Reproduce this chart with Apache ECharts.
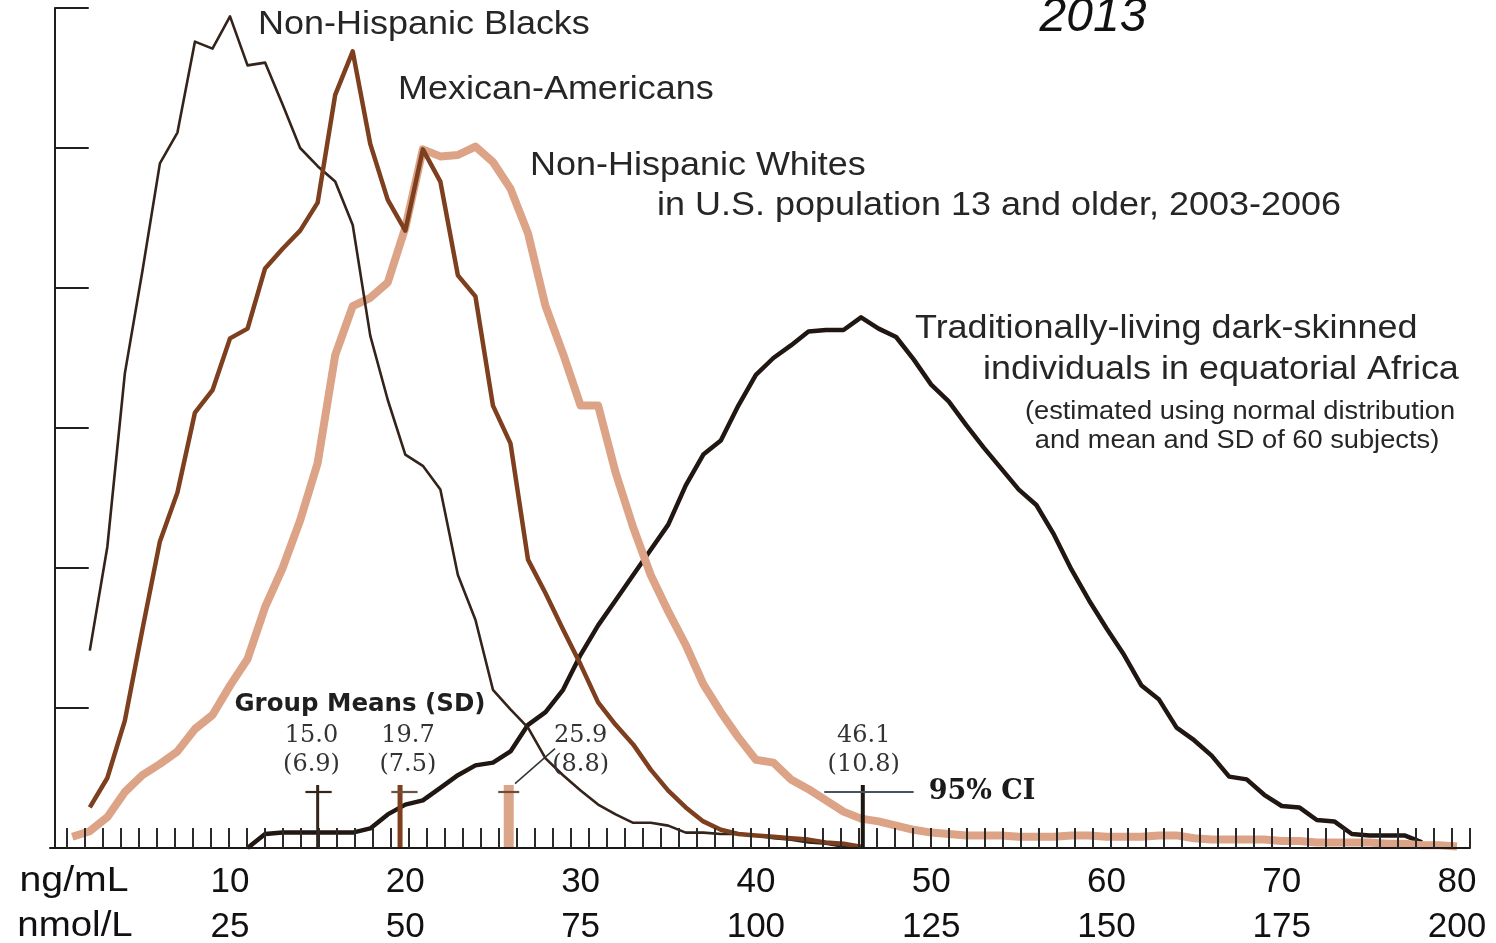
<!DOCTYPE html>
<html>
<head>
<meta charset="utf-8">
<script src="https://cdn.jsdelivr.net/npm/echarts@6/dist/echarts.min.js"></script>
<style>
html,body{margin:0;padding:0;background:#ffffff;}
#chart{width:1496px;height:943px;}
</style>
</head>
<body>
<div id="chart"></div>
<script>
// ---- data (percent of population per 1 ng/mL bin) ----
const bins = [1,2,3,4,5,6,7,8,9,10,11,12,13,14,15,16,17,18,19,20,21,22,23,24,25,26,27,28,29,30,31,32,33,34,35,36,37,38,39,40,41,42,43,44,45,46,47,48,49,50,51,52,53,54,55,56,57,58,59,60,61,62,63,64,65,66,67,68,69,70,71,72,73,74,75,76,77,78,79,80];

const blacks = [null,1.41,2.15,3.39,4.12,4.89,5.11,5.76,5.71,5.94,5.59,5.61,5.31,5.00,4.87,4.76,4.45,3.66,3.20,2.81,2.73,2.56,1.95,1.63,1.13,0.99,0.86,0.64,0.52,0.41,0.31,0.24,0.18,0.18,0.16,0.11,0.11,0.10,0.10,0.09,0.07,0.06,0.04,0.03,0.01,0.01];

const mexican = [null,0.29,0.50,0.91,1.56,2.19,2.54,3.11,3.27,3.64,3.71,4.14,4.28,4.41,4.61,5.38,5.69,5.03,4.63,4.41,4.99,4.76,4.09,3.94,3.16,2.89,2.06,1.82,1.56,1.31,1.04,0.88,0.74,0.56,0.41,0.29,0.19,0.13,0.10,0.09,0.08,0.07,0.06,0.04,0.03,0.01];

const whites = [0.08,0.12,0.22,0.40,0.52,0.60,0.69,0.85,0.95,1.16,1.35,1.72,2.00,2.34,2.75,3.52,3.87,3.93,4.04,4.43,4.99,4.94,4.95,5.01,4.90,4.71,4.39,3.87,3.53,3.16,3.16,2.68,2.29,1.95,1.69,1.45,1.17,0.97,0.79,0.63,0.61,0.49,0.42,0.34,0.26,0.21,0.19,0.16,0.13,0.11,0.10,0.09,0.09,0.09,0.08,0.08,0.08,0.09,0.09,0.08,0.08,0.08,0.09,0.09,0.07,0.06,0.06,0.06,0.06,0.05,0.05,0.04,0.04,0.04,0.04,0.03,0.03,0.02,0.02,0.01];

const africa = [null,null,null,null,null,null,null,null,null,null,0.00,0.10,0.11,0.11,0.11,0.11,0.11,0.14,0.24,0.31,0.34,0.43,0.52,0.59,0.61,0.69,0.88,0.97,1.13,1.38,1.59,1.77,1.95,2.13,2.31,2.59,2.81,2.91,3.16,3.38,3.50,3.59,3.69,3.70,3.70,3.79,3.71,3.65,3.49,3.31,3.19,3.02,2.86,2.71,2.56,2.45,2.24,1.99,1.77,1.57,1.38,1.16,1.06,0.86,0.77,0.66,0.51,0.49,0.38,0.30,0.29,0.20,0.19,0.10,0.09,0.09,0.09,0.04];

// group means (ng/mL), SD, and 95% CI bounds
const groupNames = ['Non-Hispanic Blacks','Mexican-Americans','Non-Hispanic Whites','Equatorial Africa'];
const meanValues = [15.0, 19.7, 25.9, 46.1];
const sdValues = [6.9, 7.5, 8.8, 10.8];
const ciLow = [14.3, 19.2, 25.3, 43.9];
const ciHigh = [15.8, 20.7, 26.5, 49.0];

// axis tick labels
const ngLabels = [10,20,30,40,50,60,70,80];
const nmolLabels = [25,50,75,100,125,150,175,200];

// ---- build ----
function pairs(arr){
  return arr.map((v,i)=>[bins[i], v]).filter(d => d[1] !== null);
}
const nmolOf = {};
ngLabels.forEach((v,i)=>{ nmolOf[v] = nmolLabels[i]; });

// minor tick positions along the axis (decorative ruler ticks)
const tickStart = 0.70, tickEnd = 80.74, tickCount = 79;
const minorTicks = [];
for (let k = 0; k < tickCount; k++) minorTicks.push(tickStart + k * (tickEnd - tickStart) / (tickCount - 1));

const chart = echarts.init(document.getElementById('chart'), null, {renderer:'canvas'});

const barColors = ['#35241a', '#7d3f1d', '#dba58a', '#1e1612'];
const barWidths = [3, 5, 10, 4];
const crossColors = ['#35241a', '#6a5344', '#6e4c3b', '#4b5358'];
const labelShift = [-0.35, 0.45, 4.1, 0.05];

const option = {
  animation: false,
  backgroundColor: '#ffffff',
  grid: { left: 50, right: 26, top: 8, bottom: 95, containLabel: false, outerBoundsMode: 'none' },
  xAxis: {
    type: 'value',
    min: -0.27,
    max: 80.74,
    z: 10,
    axisLine: { show: true, lineStyle: { color: '#1a1a1a', width: 2 } },
    axisTick: { show: true, inside: true, length: 20, customValues: minorTicks, lineStyle: { color: '#2a2a2a', width: 2 } },
    axisLabel: {
      show: true,
      customValues: ngLabels,
      margin: 12,
      formatter: function(v){ return v + '\n' + nmolOf[Math.round(v)]; },
      fontFamily: '"Liberation Sans", Arial, sans-serif',
      fontSize: 35,
      lineHeight: 45,
      color: '#111111'
    },
    splitLine: { show: false }
  },
  yAxis: {
    type: 'value',
    min: 0,
    max: 6,
    interval: 1,
    axisLine: { show: true, lineStyle: { color: '#1f1f1f', width: 2 } },
    axisTick: { show: true, inside: true, length: 34, lineStyle: { color: '#1f1f1f', width: 2 } },
    axisLabel: { show: false },
    splitLine: { show: false }
  },
  series: [
    { name: groupNames[3], type: 'line', data: pairs(africa), symbol: 'none', z: 2,
      lineStyle: { color: '#201612', width: 4.5, join: 'round' } },
    { name: groupNames[2], type: 'line', data: pairs(whites), symbol: 'none', z: 3,
      lineStyle: { color: '#dca386', width: 8, join: 'round' } },
    { name: groupNames[0], type: 'line', data: pairs(blacks), symbol: 'none', z: 4,
      lineStyle: { color: '#33231a', width: 2.6, join: 'round' } },
    { name: groupNames[1], type: 'line', data: pairs(mexican), symbol: 'none', z: 5,
      lineStyle: { color: '#7d3f1d', width: 4.5, join: 'round' } },
    {
      name: 'Group means', type: 'custom', z: 8, clip: false,
      data: meanValues.map((m,i)=>[m, ciLow[i], ciHigh[i], sdValues[i]]),
      encode: { x: [0,1,2], y: -1 },
      renderItem: function(params, api){
        const i = params.dataIndex;
        const m = api.value(0), lo = api.value(1), hi = api.value(2), sd = api.value(3);
        const barTop = 0.45, crossY = 0.40, labelY = 0.70;
        const b = api.coord([m, 0]);
        const t = api.coord([m, barTop]);
        const cl = api.coord([lo, crossY]);
        const ch = api.coord([hi, crossY]);
        const lab = api.coord([m + labelShift[i], labelY]);
        const children = [
          { type: 'line', shape: { x1: b[0], y1: b[1], x2: t[0], y2: t[1] },
            style: { stroke: barColors[i], lineWidth: barWidths[i] } },
          { type: 'line', shape: { x1: cl[0], y1: cl[1], x2: ch[0], y2: ch[1] },
            style: { stroke: crossColors[i], lineWidth: 2.2 } },
          { type: 'text', x: lab[0], y: lab[1],
            style: { text: m.toFixed(1) + '\n(' + sd.toFixed(1) + ')', font: '24px "DejaVu Serif", serif',
                     fill: '#333333', textAlign: 'center', textVerticalAlign: 'middle', lineHeight: 29 } }
        ];
        if (i === 2) {
          const p1 = api.coord([m + 0.36, 0.46]);
          const p2 = api.coord([m + 2.64, 0.71]);
          children.push({ type: 'line', shape: { x1: p1[0], y1: p1[1], x2: p2[0], y2: p2[1] },
            style: { stroke: '#333333', lineWidth: 1.5 } });
        }
        if (i === 3) {
          children.push({ type: 'text', x: ch[0] + 15, y: ch[1],
            style: { text: '95% CI', font: 'bold 27px "DejaVu Serif", serif', fill: '#1a1a1a',
                     textAlign: 'left', textVerticalAlign: 'middle' } });
        }
        return { type: 'group', children: children };
      }
    }
  ],
  graphic: [
    { type: 'text', x: 1093, y: 18, style: { text: '2013', font: 'italic 48px "Liberation Sans", Arial, sans-serif', fill: '#111111', textAlign: 'center', textVerticalAlign: 'middle' } },
    { type: 'text', x: 258, y: 25, scaleX: 1.09, style: { text: 'Non-Hispanic Blacks', font: '33px "Liberation Sans", Arial, sans-serif', fill: '#262626', textAlign: 'left', textVerticalAlign: 'middle' } },
    { type: 'text', x: 398, y: 90, scaleX: 1.09, style: { text: 'Mexican-Americans', font: '33px "Liberation Sans", Arial, sans-serif', fill: '#262626', textAlign: 'left', textVerticalAlign: 'middle' } },
    { type: 'text', x: 530, y: 166, scaleX: 1.09, style: { text: 'Non-Hispanic Whites', font: '33px "Liberation Sans", Arial, sans-serif', fill: '#262626', textAlign: 'left', textVerticalAlign: 'middle' } },
    { type: 'text', x: 657, y: 206, scaleX: 1.09, style: { text: 'in U.S. population 13 and older, 2003-2006', font: '33px "Liberation Sans", Arial, sans-serif', fill: '#262626', textAlign: 'left', textVerticalAlign: 'middle' } },
    { type: 'text', x: 915, y: 329, scaleX: 1.09, style: { text: 'Traditionally-living dark-skinned', font: '33px "Liberation Sans", Arial, sans-serif', fill: '#262626', textAlign: 'left', textVerticalAlign: 'middle' } },
    { type: 'text', x: 983, y: 370, scaleX: 1.09, style: { text: 'individuals in equatorial Africa', font: '33px "Liberation Sans", Arial, sans-serif', fill: '#262626', textAlign: 'left', textVerticalAlign: 'middle' } },
    { type: 'text', x: 1240, y: 412, scaleX: 1.09, style: { text: '(estimated using normal distribution', font: '25px "Liberation Sans", Arial, sans-serif', fill: '#262626', textAlign: 'center', textVerticalAlign: 'middle' } },
    { type: 'text', x: 1237, y: 441, scaleX: 1.09, style: { text: 'and mean and SD of 60 subjects)', font: '25px "Liberation Sans", Arial, sans-serif', fill: '#262626', textAlign: 'center', textVerticalAlign: 'middle' } },
    { type: 'text', x: 360, y: 705, style: { text: 'Group Means (SD)', font: 'bold 24.5px "DejaVu Sans", sans-serif', fill: '#1f1f1f', textAlign: 'center', textVerticalAlign: 'middle' } },
    { type: 'text', x: 74, y: 881, scaleX: 1.12, style: { text: 'ng/mL', font: '35px "Liberation Sans", Arial, sans-serif', fill: '#111111', textAlign: 'center', textVerticalAlign: 'middle' } },
    { type: 'text', x: 75, y: 926, scaleX: 1.1, style: { text: 'nmol/L', font: '35px "Liberation Sans", Arial, sans-serif', fill: '#111111', textAlign: 'center', textVerticalAlign: 'middle' } }
  ]
};
chart.setOption(option);
</script>
</body>
</html>
